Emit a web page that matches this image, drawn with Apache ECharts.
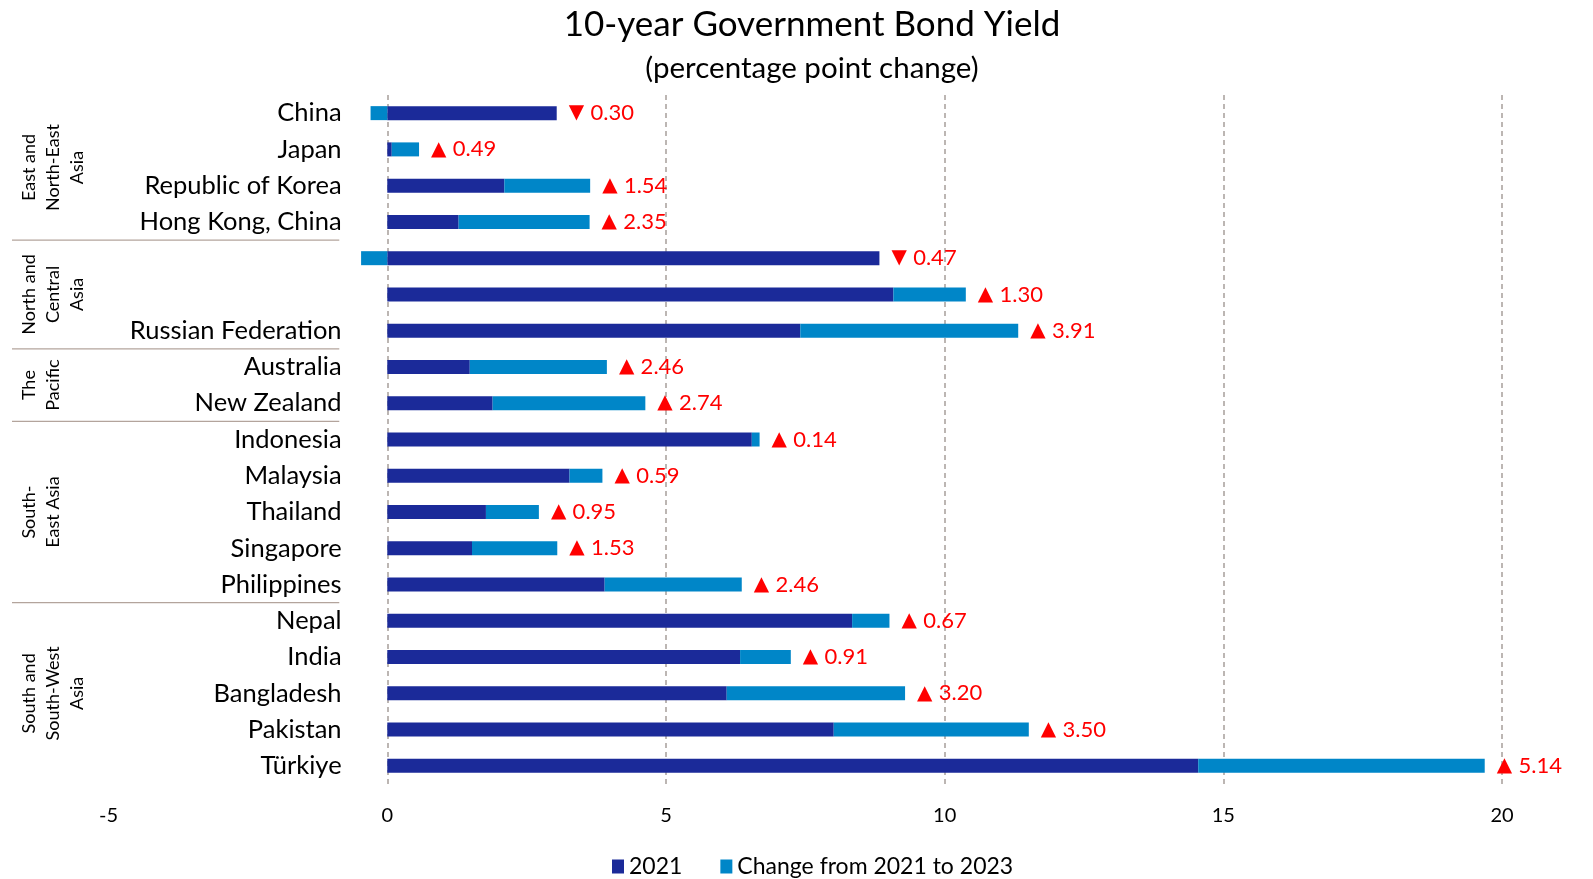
<!DOCTYPE html>
<html>
<head>
<meta charset="utf-8">
<script src="https://cdn.jsdelivr.net/npm/echarts@6/dist/echarts.min.js"></script>
<style>
  html, body { margin: 0; padding: 0; background: #ffffff; }
  #chart { width: 1593px; height: 879px; }
</style>
</head>
<body>
<div id="chart"></div>
<script>
// Economies, top to bottom (two North and Central Asia rows carry no label)
const economies = [
  'China', 'Japan', 'Republic of Korea', 'Hong Kong, China',
  '', ' ', 'Russian Federation',
  'Australia', 'New Zealand',
  'Indonesia', 'Malaysia', 'Thailand', 'Singapore', 'Philippines',
  'Nepal', 'India', 'Bangladesh', 'Pakistan', 'Türkiye'
];

// 10-year government bond yield in 2021 (%)
const yield2021 = [
  3.04, 0.08, 2.10, 1.28,
  8.83, 9.08, 7.41,
  1.48, 1.89,
  6.54, 3.27, 1.77, 1.52, 3.90,
  8.34, 6.33, 6.09, 8.01, 14.55
];

// Change from 2021 to 2023 (percentage points)
const change2123 = [
  -0.30, 0.49, 1.54, 2.35,
  -0.47, 1.30, 3.91,
  2.46, 2.74,
  0.14, 0.59, 0.95, 1.53, 2.46,
  0.67, 0.91, 3.20, 3.50, 5.14
];

// Sub-regional groupings (first and last row index of each)
const groupNames = [
  'East and\nNorth-East\nAsia',
  'North and\nCentral\nAsia',
  'The\nPacific',
  'South-\nEast Asia',
  'South and\nSouth-West\nAsia'
];
const groupFirst = [0, 4, 7, 9, 14];
const groupLast  = [3, 6, 8, 13, 18];

const seriesNames = ['2021', 'Change from 2021 to 2023'];
const xTicks = { min: -5, max: 20, step: 5 };

const FONT = 'Lato, "Open Sans", sans-serif';
const DARK = '#1b2a99';
const LIGHT = '#0086c8';
const GRID_COLOR = '#a79f9b';
const RED = '#ff0000';

const chart = echarts.init(document.getElementById('chart'));

function changeLabel(i) {
  const v = change2123[i];
  return '{tri|' + (v < 0 ? '▼' : '▲') + ' }{num|' + Math.abs(v).toFixed(2) + '}';
}

const labelBase = {
  position: 'right',
  distance: 12,
  formatter: p => changeLabel(p.dataIndex),
  rich: {
    tri: { color: RED, fontSize: 20, fontFamily: '"DejaVu Sans", sans-serif' },
    num: { color: RED, fontSize: 22, fontFamily: FONT }
  }
};

// negative changes are annotated at the end of the 2021 bar, positive ones at the end of the change bar
const darkData = yield2021.map((v, i) => ({ value: v, label: { show: change2123[i] < 0 } }));
const lightData = change2123.map(v => ({ value: v, label: { show: v >= 0 } }));

chart.setOption({
  backgroundColor: '#ffffff',
  animation: false,
  title: [
    {
      text: '10-year Government Bond Yield',
      left: 807,
      textAlign: 'center',
      top: 2,
      textStyle: { fontFamily: FONT, fontSize: 35, fontWeight: 'normal', color: '#000' }
    },
    {
      text: '(percentage point change)',
      left: 807,
      textAlign: 'center',
      top: 48,
      textStyle: { fontFamily: FONT, fontSize: 29.5, fontWeight: 'normal', color: '#000' }
    }
  ],
  legend: {
    data: seriesNames,
    bottom: -4,
    left: 607,
    icon: 'rect',
    itemWidth: 12,
    itemHeight: 14,
    itemGap: 38,
    textStyle: { fontFamily: FONT, fontSize: 23, color: '#000' }
  },
  grid: {
    left: 108.6,
    right: 91,
    top: 95,
    bottom: 95,
    outerBoundsMode: 'none'
  },
  xAxis: {
    type: 'value',
    min: xTicks.min,
    max: xTicks.max,
    interval: xTicks.step,
    axisLine: { show: false },
    axisTick: { show: false },
    axisLabel: { fontFamily: FONT, fontSize: 20, color: '#000', margin: 22 },
    splitLine: {
      show: true,
      showMinLine: false,
      lineStyle: { color: GRID_COLOR, type: [5, 4], width: 1.5 }
    }
  },
  yAxis: {
    type: 'category',
    inverse: true,
    data: economies,
    axisLine: { show: false, onZero: false },
    axisTick: { show: false },
    // names sit just left of the zero line, inside the negative part of the plot
    axisLabel: { fontFamily: FONT, fontSize: 25.5, color: '#000', margin: -233 }
  },
  series: [
    {
      name: seriesNames[0],
      type: 'bar',
      stack: 'yield',
      barWidth: 14,
      itemStyle: { color: DARK },
      label: labelBase,
      data: darkData
    },
    {
      name: seriesNames[1],
      type: 'bar',
      stack: 'yield',
      barWidth: 14,
      itemStyle: { color: LIGHT },
      label: labelBase,
      data: lightData
    }
  ]
});

// Group labels and separators, placed from the category axis positions
function drawGroups() {
  const yOf = i => chart.convertToPixel({ yAxisIndex: 0 }, i);
  const band = yOf(1) - yOf(0);
  const zeroX = chart.convertToPixel({ xAxisIndex: 0 }, 0);
  const elements = [];
  groupNames.forEach((name, g) => {
    const top = yOf(groupFirst[g]) - band / 2;
    const bottom = yOf(groupLast[g]) + band / 2;
    elements.push({
      type: 'text',
      x: 17,
      y: (top + bottom) / 2,
      rotation: Math.PI / 2,
      silent: true,
      style: {
        text: name,
        fontFamily: FONT,
        fontSize: 18,
        lineHeight: 24,
        fill: '#000',
        align: 'center',
        verticalAlign: 'top'
      }
    });
    if (g < groupNames.length - 1) {
      elements.push({
        type: 'line',
        silent: true,
        shape: { x1: 12, y1: bottom, x2: zeroX - 48, y2: bottom },
        style: { stroke: '#b3a49c', lineWidth: 1.2 }
      });
    }
  });
  chart.setOption({ graphic: elements });
}
drawGroups();
</script>
</body>
</html>
